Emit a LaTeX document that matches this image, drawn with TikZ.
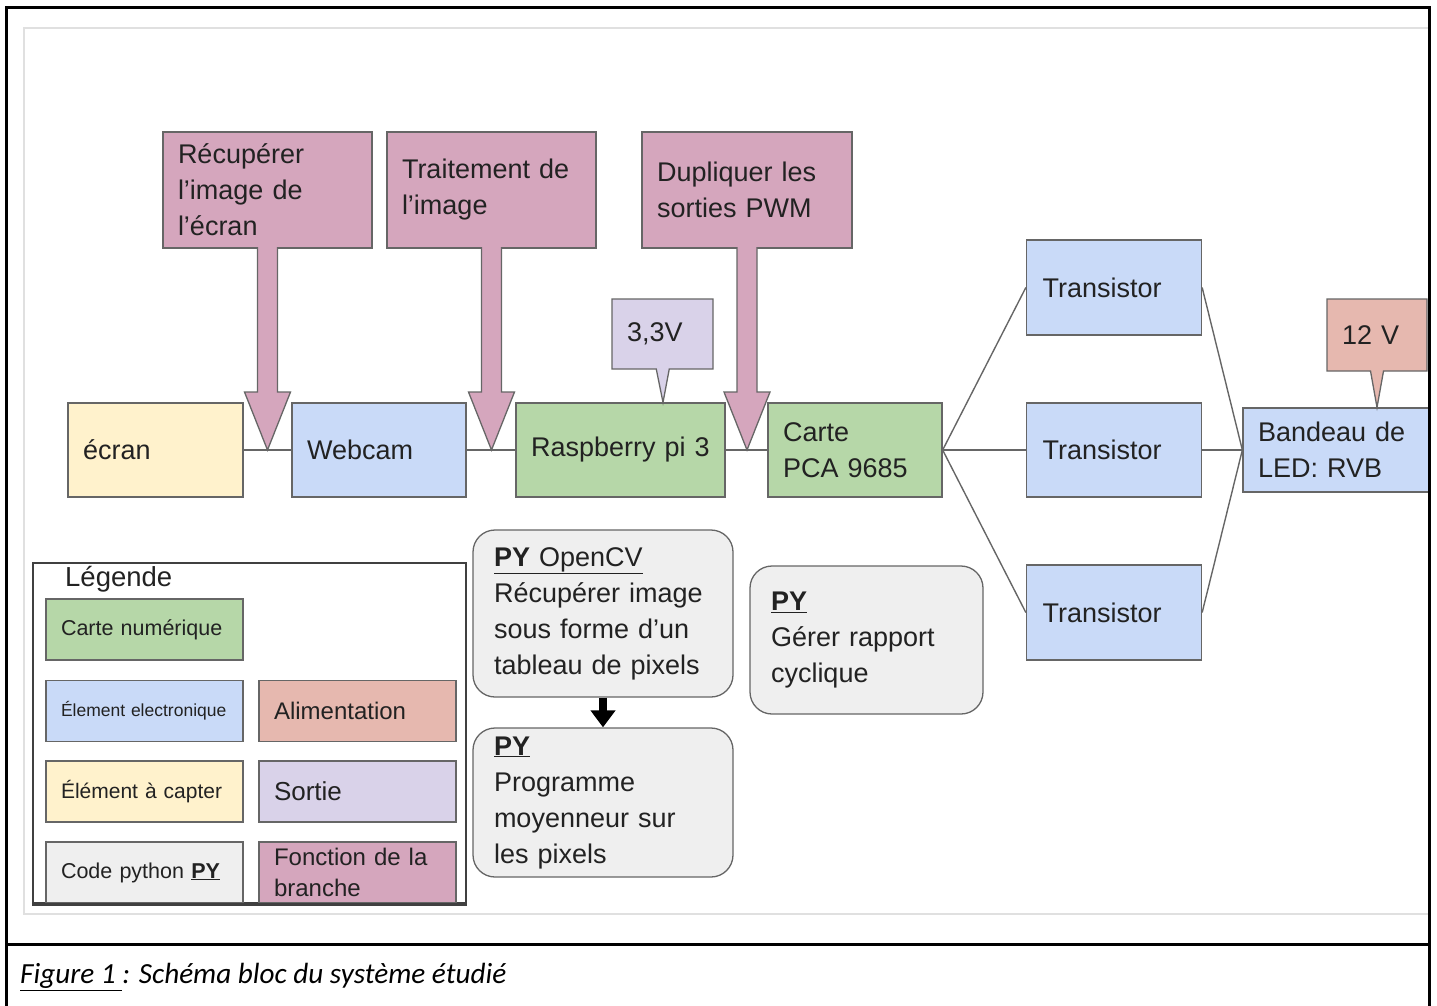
\documentclass[tikz,border=0pt]{standalone}
\usepackage{fontspec}
\setmainfont{Liberation Sans}
\newfontfamily\captionfont{Carlito}
\usetikzlibrary{arrows.meta,positioning,calc,shapes.callouts}

\definecolor{rose}{HTML}{D5A6BD}
\definecolor{bleu}{HTML}{C9DAF8}
\definecolor{vert}{HTML}{B6D7A8}
\definecolor{jaune}{HTML}{FFF2CC}
\definecolor{lavande}{HTML}{D9D2E9}
\definecolor{saumon}{HTML}{E6B8AF}
\definecolor{gris}{HTML}{EFEFEF}
\definecolor{trait}{HTML}{666666}
\definecolor{encre}{HTML}{222222}

\newcommand{\PY}{\underline{\textbf{PY}}}

\begin{document}
\begin{tikzpicture}[
  x=1pt, y=-1pt,
  font=\fontsize{27}{36}\selectfont, text=encre,
  bloc/.style 2 args={rectangle, draw=trait, line width=1.3pt, inner xsep=15pt,
                      inner ysep=2pt, align=left, text width=#1pt, minimum height=#2pt},
  bulle/.style 2 args={rectangle callout, draw=trait, line width=1.3pt, inner xsep=15pt,
                       inner ysep=2pt, align=left, text width=#1pt, minimum height=#2pt,
                       callout pointer width=13pt},
  code/.style 2 args={rectangle, rounded corners=22pt, draw=trait, fill=gris,
                      line width=1.3pt, inner xsep=21pt, inner ysep=2pt, align=left,
                      text width=#1pt, minimum height=#2pt},
  leg/.style={bloc={167}{61}},
  lien/.style={draw=trait, line width=1.4pt},
  fonc/.style={fill=rose, draw=trait, line width=1.3pt, line join=miter},
  noire/.style={-{Triangle[width=24pt,length=17pt]}, line width=8pt, draw=black},
]

% page frame and grey panel
\useasboundingbox (0,0) rectangle (1437,1005);
\clip (0,0) rectangle (1437,1005);
\draw[draw=black!12, line width=2pt] (24,28) rectangle (1429,914);

% main chain, one row at y=450
\def\rowM{450}
\def\rowF{190}

\node[bloc={145}{94}, fill=jaune] (ecran) at (155.5,\rowM) {écran};
\node[bloc={144}{94}, fill=bleu] (webcam) at (379,\rowM) {Webcam};
\node[bloc={179}{94}, fill=vert] (rasp) at (620.5,\rowM) {Raspberry pi 3};
\node[bloc={144}{94}, fill=vert] (pca) at (855,\rowM) {Carte\\PCA 9685};

\node[bloc={143}{95}, fill=bleu, inner xsep=16pt] (trA) at (1114,287.5) {Transistor};
\node[bloc={143}{94}, fill=bleu, inner xsep=16pt] (trB) at (1114,\rowM) {Transistor};
\node[bloc={143}{95}, fill=bleu, inner xsep=16pt] (trC) at (1114,612.5) {Transistor};
\node[bloc={156}{84}, fill=bleu] (led) at (1336,\rowM) {Bandeau de\\LED: RVB};

% supplies, pointer tips sit on the top edge of the box they feed
\coordinate (p33) at (rasp.north -| 663,0);
\coordinate (p12) at (led.north -| 1377,0);
\node[bulle={71}{70}, fill=lavande, callout absolute pointer={(p33)}] (v33) at (662.5,334) {3,3V};
\node[bulle={70}{72}, fill=saumon, callout absolute pointer={(p12)}] (v12) at (1377,335) {12 V};

% links
\draw[lien] (ecran) -- (webcam);
\draw[lien] (webcam) -- (rasp);
\draw[lien] (rasp) -- (pca);
\foreach \t in {trA,trB,trC}{
  \draw[lien] (pca.east) -- (\t.west);
  \draw[lien] (\t.east) -- (led.west);
}

% branch functions and their big arrows
\node[bloc={179}{116}, fill=rose] (fA) at (267.5,\rowF) {Récupérer\\l’image de\\l’écran};
\node[bloc={179}{116}, fill=rose] (fB) at (491.5,\rowF) {Traitement de\\l’image};
\node[bloc={180}{116}, fill=rose] (fC) at (747,\rowF) {Dupliquer les\\sorties PWM};

\coordinate (jA) at ($(ecran.east)!.5!(webcam.west)$);
\coordinate (jB) at ($(webcam.east)!.5!(rasp.west)$);
\coordinate (jC) at ($(rasp.east)!.5!(pca.west)$);

% #1 box, #2 tip
\newcommand{\fleche}[2]{%
  \filldraw[fonc] let \p1=(#1.south), \p2=(#2) in
    (\x1-10pt,\y1+1.5pt) -- (\x1-10pt,\y2+58pt) -- (\x1-23pt,\y2+58pt) -- (\x1,\y2)
    -- (\x1+23pt,\y2+58pt) -- (\x1+10pt,\y2+58pt) -- (\x1+10pt,\y1+1.5pt);
}
\fleche{fA}{jA}
\fleche{fB}{jB}
\fleche{fC}{jC}

% python code
\node[code={218}{167}] (pyCV) at (603,613.5) {\underline{\textbf{PY} OpenCV}\\Récupérer image\\sous forme d’un\\tableau de pixels};
\node[code={218}{149}] (pyMoy) at (603,802.5) {\PY\\Programme\\moyenneur sur\\les pixels};
\node[code={191}{148}] (pyPWM) at (866.5,640) {\PY\\Gérer rapport\\cyclique};
\draw[noire] (pyCV) -- (pyMoy);

% legend
\node[draw=black!75, line width=2.5pt, minimum width=433pt, minimum height=340pt,
      inner sep=0pt] (legende) at (249.5,733) {};
\node[anchor=west, inner sep=0pt, font=\fontsize{27.5}{30}\selectfont] (legTitre) at (65,579) {Légende};
\node[leg, fill=vert, font=\fontsize{21.5}{26}\selectfont] (lgA) at (144.5,629.5) {Carte numérique};
\node[leg, fill=bleu, font=\fontsize{17.5}{21}\selectfont] (lgB) at (144.5,711) {Élement electronique};
\node[leg, fill=saumon, font=\fontsize{24}{30}\selectfont] (lgC) at (357.5,711) {Alimentation};
\node[leg, fill=jaune, font=\fontsize{21}{26}\selectfont] (lgD) at (144.5,791.5) {Élément à capter};
\node[leg, fill=lavande, font=\fontsize{26}{30}\selectfont] (lgE) at (357.5,791.5) {Sortie};
\node[leg, fill=gris, font=\fontsize{21.5}{26}\selectfont] (lgF) at (144.5,872.5) {Code python \PY};
\node[leg, fill=rose, font=\fontsize{24}{31}\selectfont] (lgG) at (357.5,872.5) {Fonction de la\\branche};
\draw[draw=black!75, line width=2.5pt] (legende.south west) -- (legende.south east);

% frame
\draw[line width=3pt] (6.5,1010) -- (6.5,7.5) -- (1429.5,7.5) -- (1429.5,1010);
\draw[line width=3pt] (6.5,944.5) -- (1429.5,944.5);
\node[anchor=west, inner sep=0pt, text=black, font=\captionfont\itshape\fontsize{29.2}{34}\selectfont]
  (legFig) at (20,977) {\underline{Figure 1\ }: Schéma bloc du système étudié};

\end{tikzpicture}
\end{document}
